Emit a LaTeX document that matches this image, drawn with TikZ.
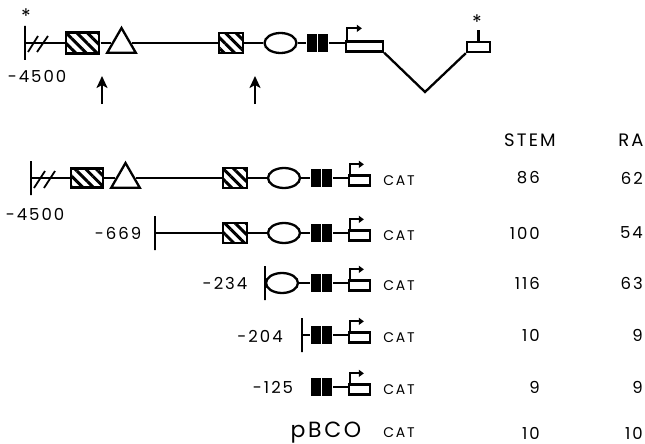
\documentclass[tikz,border=0pt]{standalone}
\usepackage{fontspec}
\setmainfont{Poppins}[LetterSpace=12]
\usetikzlibrary{shapes.geometric,patterns.meta,arrows.meta}

\begin{document}
\begin{tikzpicture}[x=1pt,y=-1pt,line width=2.3pt,
    hatch/.style={draw,preaction={fill=white},inner sep=0pt,minimum width=24pt,minimum height=20pt,
      pattern={Lines[angle=-45,distance=7.5pt,line width=3pt]}},
    tri/.style={draw,fill=white,regular polygon,regular polygon sides=3,minimum size=33pt,inner sep=0pt},
    oval/.style={draw,fill=white,ellipse,minimum width=32pt,minimum height=20pt,inner sep=0pt},
    enh/.style={fill=black,inner sep=0pt,minimum width=21pt,minimum height=18pt,
      path picture={\draw[white,line width=1.6pt] (path picture bounding box.north) -- (path picture bounding box.south);}},
    exon/.style={draw,fill=white,inner sep=0pt,minimum width=21pt,minimum height=10pt},
    endbar/.style={draw,inner sep=0pt,minimum width=0pt,minimum height=34pt},
    prom/.style={-{Triangle[length=5pt,width=7pt]},line width=2pt},
    uparr/.style={-{Stealth[length=12pt,width=11pt,inset=3pt]},line width=2.3pt},
    lbl/.style={font=\fontsize{16.5}{19}\selectfont,inner sep=0pt},
    head/.style={font=\fontsize{18}{21}\selectfont,inner sep=0pt},
    cat/.style={font=\fontsize{14}{16}\selectfont,inner sep=0pt},
    star/.style={font=\fontsize{20}{20}\selectfont,inner sep=0pt}]
  \useasboundingbox (0,0) rectangle (645,444);

  % genomic map
  \node[endbar] (t0) at (25,43) {};
  \node[hatch,minimum width=33pt,minimum height=21pt] (th1) at (82.5,43) {};
  \node[tri] (ttr) at (121.5,44.5) {};
  \node[hatch] (th2) at (231,43) {};
  \node[oval] (tov) at (280.5,43) {};
  \node[enh] (te) at (317.5,43) {};
  \node[exon,minimum width=37pt] (tx1) at (364.5,46.5) {};
  \node[exon,minimum width=23pt] (tx2) at (478.5,47) {};
  \coordinate (tv) at (425,92);
  \node[star] (tstar1) at (26,16) {*};
  \node[star] (tstar2) at (477,22) {*};
  \node[lbl] (tpos) at (37,76) {-4500};
  \coordinate (ua1) at (102,104);
  \coordinate (ub1) at (102,76);
  \coordinate (ua2) at (255,104);
  \coordinate (ub2) at (255,76);
  \draw (t0.center) -- (th1.west);
  \draw (th1.east) -- (th1.east -| ttr.west);
  \draw (th1.east -| ttr.east) -- (th2.west);
  \draw (th2.east) -- (tov.west);
  \draw (tov.east) -- (te.west);
  \draw (te.east) -- (te.east -| tx1.west);
  \draw[line width=1.8pt] (28,52) -- (38,36) (37,52) -- (48,36);
  \draw (tx1.south east) -- (tv) -- (tx2.south west);
  \draw (tx2.north) -- ++(0,-11);
  \draw[prom] ([xshift=2pt]tx1.north west) -- ++(0,-12) -- ++(15,0);
  \draw[uparr] (ua1) -- (ub1);
  \draw[uparr] (ua2) -- (ub2);

  % column heads
  \node[head] (stem) at (530,140) {STEM};
  \node[head] (ra) at (631,140) {RA};

  % constructs
  \node[endbar] (b1) at (31,178) {};
  \node[hatch,minimum width=32pt,minimum height=19pt] (h1) at (87,178) {};
  \node[tri] (tr1) at (125.5,179.5) {};
  \node[hatch] (h2) at (235,178) {};
  \node[oval] (o1) at (284,178) {};
  \node[lbl] (p1) at (35,214) {-4500};

  \node[endbar] (b2) at (155,233) {};
  \node[hatch] (h3) at (235,233) {};
  \node[oval] (o2) at (284,233) {};
  \node[lbl] (p2) at (118,233) {-669};

  \node[endbar] (b3) at (265,283) {};
  \node[oval] (o3) at (282,283) {};
  \node[lbl] (p3) at (225,283) {-234};

  \node[endbar] (b4) at (302,335) {};
  \node[lbl] (p4) at (260,336) {-204};

  \node[lbl] (p5) at (273,387) {-125};

  \node[lbl,font=\fontsize{22}{24}\selectfont,anchor=base] (p6) at (326,437) {pBCO};
  \node[cat] (c6) at (399,433) {CAT};

  \foreach \r/\y/\s/\a in {1/178/86/62,2/233/100/54,3/283/116/63,4/335/10/9,5/387/9/9,6/433/10/10} {
    \node[lbl,anchor=east] (s\r) at (541,\y) {\s};
    \node[lbl,anchor=east] (a\r) at (644,\y) {\a};
  }
  \foreach \r/\y in {1/178,2/233,3/283,4/335,5/387} {
    \node[enh] (e\r) at (321.5,\y) {};
    \node[exon] (x\r) at (359.5,\y+2.5) {};
    \node[cat] (c\r) at (399,\y+3) {CAT};
    \draw (e\r.east) -- (e\r.east -| x\r.west);
    \draw[prom] ([xshift=2pt]x\r.north west) -- ++(0,-10) -- ++(14,0);
  }

  \draw (b1.center) -- (h1.west);
  \draw (h1.east) -- (h1.east -| tr1.west);
  \draw (h1.east -| tr1.east) -- (h2.west);
  \draw (h2.east) -- (o1.west);
  \draw (o1.east) -- (e1.west);
  \draw (b2.center) -- (h3.west);
  \draw (h3.east) -- (o2.west);
  \draw (o2.east) -- (e2.west);
  \draw (b3.center) -- (o3.west);
  \draw (o3.east) -- (e3.west);
  \draw (b4.center) -- (e4.west);
  \draw[line width=1.8pt] (34,188) -- (45,171) (44,188) -- (55,171);
\end{tikzpicture}
\end{document}
